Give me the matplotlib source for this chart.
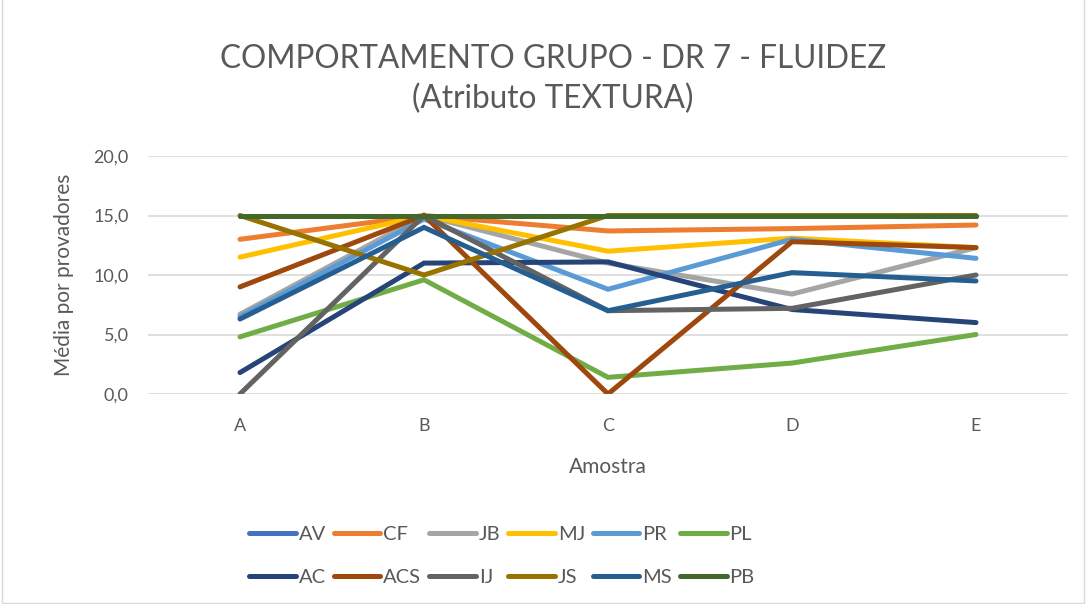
import matplotlib
matplotlib.use("Agg")
import matplotlib.pyplot as plt

# --- dados ---
amostras = ["A", "B", "C", "D", "E"]
provadores = ["AV", "CF", "JB", "MJ", "PR", "PL", "AC", "ACS", "IJ", "JS", "MS", "PB"]
av = [15.0, 15.0, 15.0, 15.0, 15.0]
cf = [13.0, 15.0, 13.7, 13.9, 14.2]
jb = [6.7, 15.0, 11.0, 8.4, 12.3]
mj = [11.5, 15.0, 12.0, 13.1, 12.3]
pr = [6.5, 14.7, 8.8, 13.0, 11.4]
pl = [4.8, 9.6, 1.4, 2.6, 5.0]
ac = [1.8, 11.0, 11.1, 7.1, 6.0]
acs = [9.0, 15.0, 0.0, 12.8, 12.3]
ij = [0.0, 15.0, 7.0, 7.2, 10.0]
js = [15.0, 10.0, 15.0, 15.0, 15.0]
ms = [6.3, 14.0, 7.0, 10.2, 9.5]
pb = [15.0, 15.0, 15.0, 15.0, 15.0]
yticks = [0, 5, 10, 15, 20]

series = [av, cf, jb, mj, pr, pl, ac, acs, ij, js, ms, pb]
cores = ["#4472C4", "#ED7D31", "#A5A5A5", "#FFC000", "#5B9BD5", "#70AD47",
         "#264478", "#9E480E", "#636363", "#997300", "#255E91", "#43682B"]

plt.rcParams['font.family'] = ['Lato', 'DejaVu Sans']
texto = "#595959"

fig = plt.figure(figsize=(10.86, 6.04), dpi=100)
ax = fig.add_axes([148 / 1086, 1 - 394 / 604, 920 / 1086, 238 / 604])

x = range(len(amostras))
linhas = []
for nome, vals, cor in zip(provadores, series, cores):
    l, = ax.plot(x, vals, color=cor, lw=3.6, label=nome, solid_capstyle='round',
                 solid_joinstyle='miter')
    linhas.append(l)

ax.set_xlim(-0.5, 4.5)
ax.set_ylim(0, 20)
ax.set_yticks(yticks)
ax.set_yticklabels([f"{v:.1f}".replace(".", ",") for v in yticks])
ax.set_xticks(list(x))
ax.set_xticklabels(amostras)
ax.tick_params(length=0, colors=texto, labelsize=13)
ax.tick_params(axis='y', pad=14)
ax.tick_params(axis='x', pad=17)
ax.grid(axis='y', color="#D9D9D9", lw=1.2)
ax.set_axisbelow(True)
for s in ax.spines.values():
    s.set_visible(False)

ax.set_xlabel("Amostra", fontsize=15, color=texto, labelpad=17)
ax.set_ylabel("Média por provadores", fontsize=15, color=texto, labelpad=14)
fig.text(553 / 1086, 1 - 79 / 604, "COMPORTAMENTO GRUPO - DR 7 - FLUIDEZ\n(Atributo TEXTURA)",
         ha='center', va='center', fontsize=22.7, color=texto, linespacing=1.42)

# legenda preenchida por linhas (como no Excel)
ordem = [0, 6, 1, 7, 2, 8, 3, 9, 4, 10, 5, 11]
leg = fig.legend([linhas[i] for i in ordem], [provadores[i] for i in ordem],
                 loc='center', bbox_to_anchor=(502 / 1086, 1 - 556 / 604), ncol=6,
                 frameon=False, fontsize=14.5, handlelength=2.3, columnspacing=0.4,
                 handletextpad=0.15, labelspacing=1.25)
for t in leg.get_texts():
    t.set_color(texto)

# moldura da área do gráfico
fig.patches.append(plt.Rectangle((0.002, 0.002), 0.996, 1.2, transform=fig.transFigure,
                                 fill=False, edgecolor="#D9D9D9", lw=1))

fig.savefig("out.png", dpi=100)
